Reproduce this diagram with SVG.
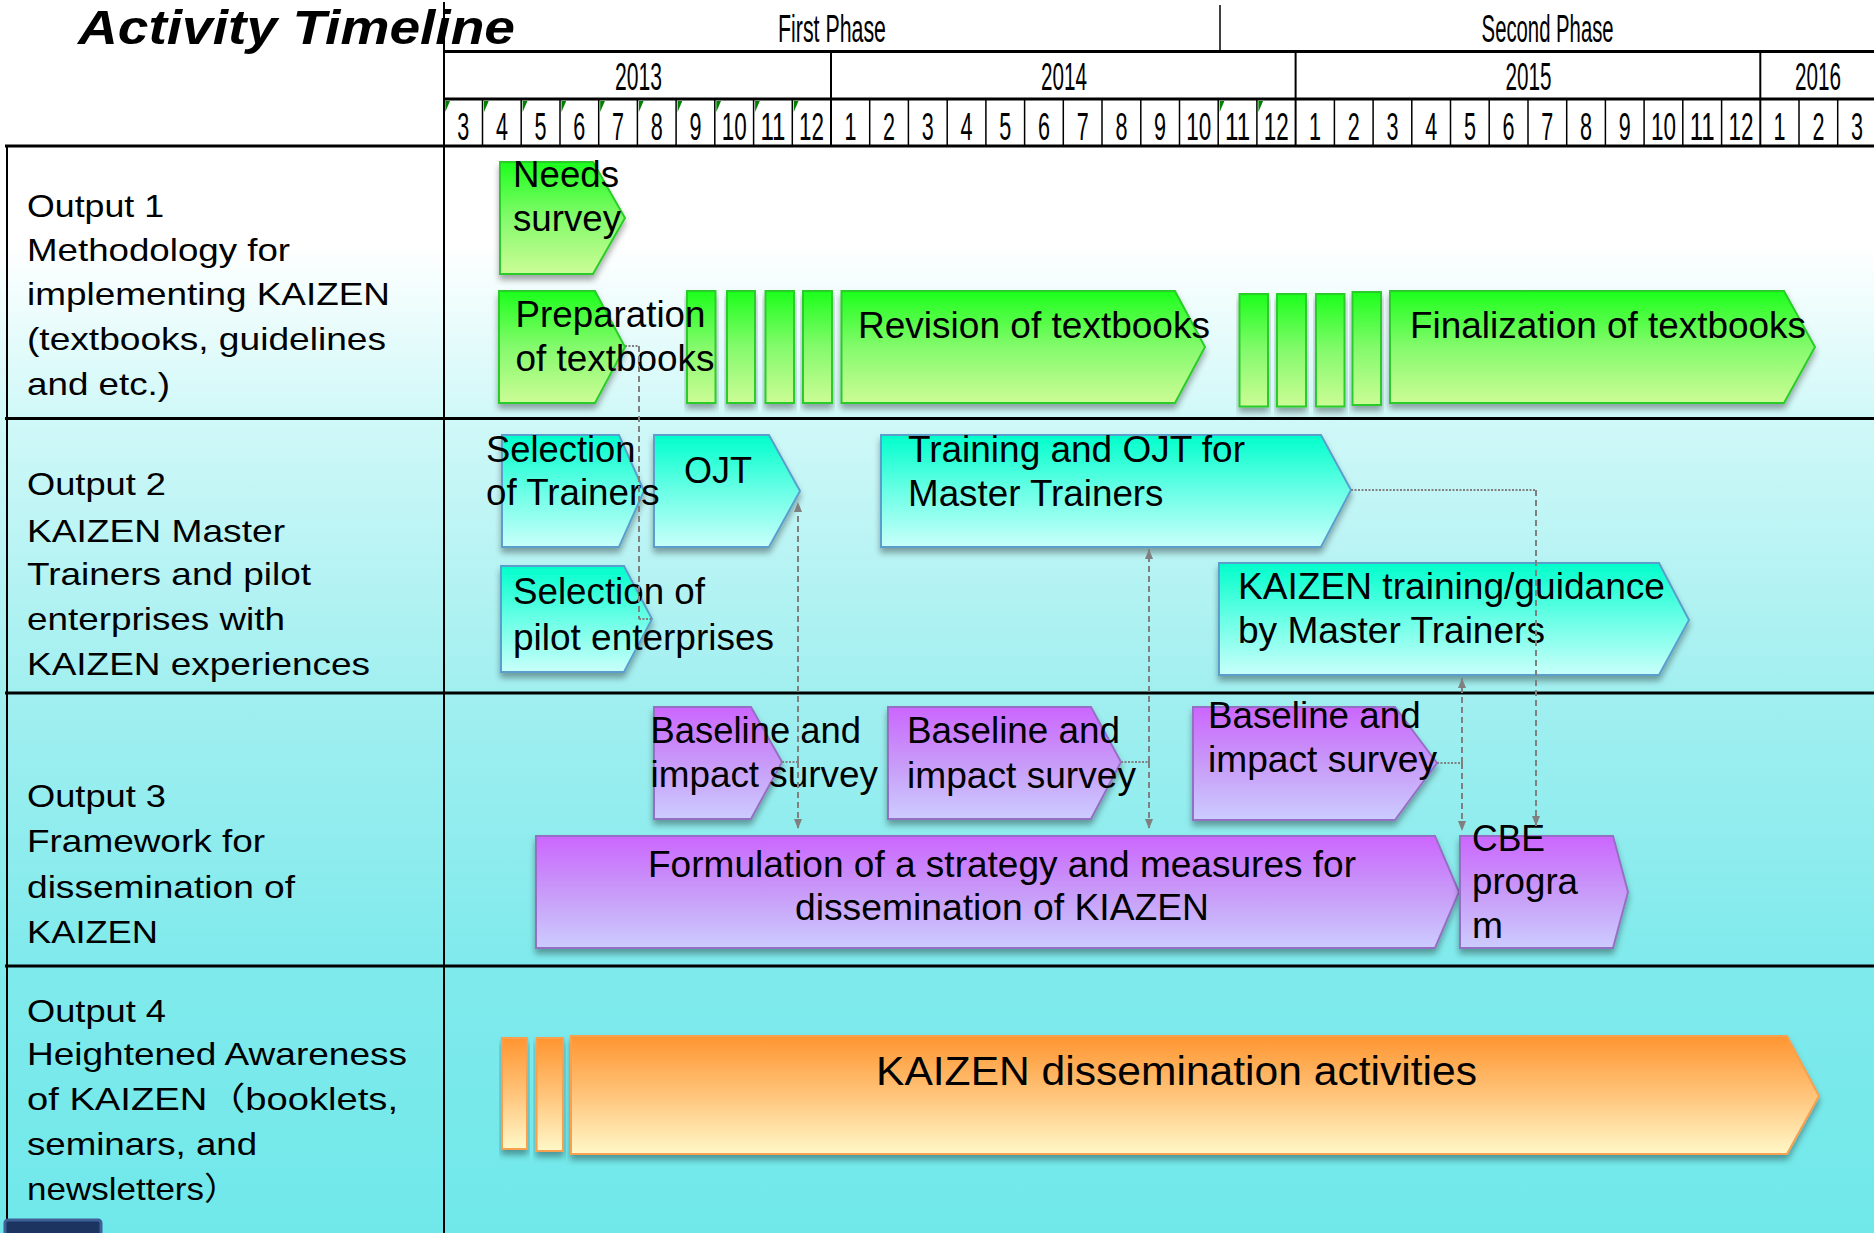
<svg xmlns="http://www.w3.org/2000/svg" width="1874" height="1233" viewBox="0 0 1874 1233">
<style>
.t{font-family:"Liberation Sans",Arial,"Noto Sans CJK JP",sans-serif;fill:#000}
.hd{font-size:38px}
.br{font-size:36px}
.lb{font-size:32px}
.grid{stroke:#000;fill:none}
.gr{fill:url(#gGreen);stroke:#2ccc2c;stroke-width:2;filter:url(#sh)}
.cy{fill:url(#gCyan);stroke:#5a9fcc;stroke-width:2;filter:url(#sh)}
.pu{fill:url(#gPurple);stroke:#9470c4;stroke-width:2;filter:url(#sh)}
.or{fill:url(#gOrange);stroke:#f7a050;stroke-width:2;filter:url(#sh)}
.cn{stroke:#808080;stroke-width:2;fill:none}
.dash{stroke-dasharray:6 4}
.dot{stroke-dasharray:2 1.5}
.tri{fill:#008000}
</style>
<defs>
<linearGradient id="bg" x1="0" y1="0" x2="0" y2="1">
<stop offset="0" stop-color="#ffffff"/>
<stop offset="0.09" stop-color="#ffffff"/>
<stop offset="0.25" stop-color="#d0f8f8"/>
<stop offset="0.5" stop-color="#a2eff0"/>
<stop offset="0.75" stop-color="#80eaec"/>
<stop offset="1" stop-color="#70e8ea"/>
</linearGradient>
<linearGradient id="gGreen" x1="0" y1="0" x2="0" y2="1">
<stop offset="0" stop-color="#1cff1c"/>
<stop offset="0.5" stop-color="#84fa6c"/>
<stop offset="1" stop-color="#ccfc96"/>
</linearGradient>
<linearGradient id="gCyan" x1="0" y1="0" x2="0" y2="1">
<stop offset="0" stop-color="#00ffcc"/>
<stop offset="0.5" stop-color="#6affe6"/>
<stop offset="1" stop-color="#c8fffa"/>
</linearGradient>
<linearGradient id="gPurple" x1="0" y1="0" x2="0" y2="1">
<stop offset="0" stop-color="#cc66ff"/>
<stop offset="0.5" stop-color="#c89af8"/>
<stop offset="1" stop-color="#ccccff"/>
</linearGradient>
<linearGradient id="gOrange" x1="0" y1="0" x2="0" y2="1">
<stop offset="0" stop-color="#ff9530"/>
<stop offset="0.5" stop-color="#ffc47a"/>
<stop offset="1" stop-color="#fff8c8"/>
</linearGradient>
<filter id="sh" x="-10%" y="-10%" width="120%" height="130%">
<feDropShadow dx="0" dy="5" stdDeviation="3" flood-color="#000" flood-opacity="0.35"/>
</filter>
<marker id="ah" viewBox="0 0 10 8" refX="10" refY="4" markerWidth="10" markerHeight="8" markerUnits="userSpaceOnUse" orient="auto">
<path d="M0,0 L10,4 L0,8 z" fill="#808080"/>
</marker>
</defs>

<rect x="0" y="0" width="1874" height="1233" fill="#ffffff"/>
<rect x="0" y="147" width="1874" height="1086" fill="url(#bg)"/>

<g id="header">
<text class="t" x="78" y="44" font-size="49" font-weight="bold" font-style="italic" textLength="437" lengthAdjust="spacingAndGlyphs">Activity Timeline</text>
<text class="t hd" x="778" y="41.5" textLength="108" lengthAdjust="spacingAndGlyphs">First Phase</text>
<text class="t hd" x="1481.6" y="41.5" textLength="132" lengthAdjust="spacingAndGlyphs">Second Phase</text>
<text class="t hd" x="615" y="90" textLength="47" lengthAdjust="spacingAndGlyphs">2013</text>
<text class="t hd" x="1041" y="90" textLength="46" lengthAdjust="spacingAndGlyphs">2014</text>
<text class="t hd" x="1505.5" y="90" textLength="46" lengthAdjust="spacingAndGlyphs">2015</text>
<text class="t hd" x="1795" y="90" textLength="46" lengthAdjust="spacingAndGlyphs">2016</text>
<g class="t hd" font-size="38">
<text x="457.2" y="140" textLength="12" lengthAdjust="spacingAndGlyphs">3</text>
<text x="495.9" y="140" textLength="12" lengthAdjust="spacingAndGlyphs">4</text>
<text x="534.6" y="140" textLength="12" lengthAdjust="spacingAndGlyphs">5</text>
<text x="573.3" y="140" textLength="12" lengthAdjust="spacingAndGlyphs">6</text>
<text x="612" y="140" textLength="12" lengthAdjust="spacingAndGlyphs">7</text>
<text x="650.8" y="140" textLength="12" lengthAdjust="spacingAndGlyphs">8</text>
<text x="689.5" y="140" textLength="12" lengthAdjust="spacingAndGlyphs">9</text>
<text x="721.7" y="140" textLength="25" lengthAdjust="spacingAndGlyphs">10</text>
<text x="760.4" y="140" textLength="25" lengthAdjust="spacingAndGlyphs">11</text>
<text x="799.1" y="140" textLength="25" lengthAdjust="spacingAndGlyphs">12</text>
<text x="844.4" y="140" textLength="12" lengthAdjust="spacingAndGlyphs">1</text>
<text x="883.1" y="140" textLength="12" lengthAdjust="spacingAndGlyphs">2</text>
<text x="921.8" y="140" textLength="12" lengthAdjust="spacingAndGlyphs">3</text>
<text x="960.5" y="140" textLength="12" lengthAdjust="spacingAndGlyphs">4</text>
<text x="999.2" y="140" textLength="12" lengthAdjust="spacingAndGlyphs">5</text>
<text x="1038" y="140" textLength="12" lengthAdjust="spacingAndGlyphs">6</text>
<text x="1076.7" y="140" textLength="12" lengthAdjust="spacingAndGlyphs">7</text>
<text x="1115.4" y="140" textLength="12" lengthAdjust="spacingAndGlyphs">8</text>
<text x="1154.1" y="140" textLength="12" lengthAdjust="spacingAndGlyphs">9</text>
<text x="1186.3" y="140" textLength="25" lengthAdjust="spacingAndGlyphs">10</text>
<text x="1225.1" y="140" textLength="25" lengthAdjust="spacingAndGlyphs">11</text>
<text x="1263.8" y="140" textLength="25" lengthAdjust="spacingAndGlyphs">12</text>
<text x="1309" y="140" textLength="12" lengthAdjust="spacingAndGlyphs">1</text>
<text x="1347.7" y="140" textLength="12" lengthAdjust="spacingAndGlyphs">2</text>
<text x="1386.4" y="140" textLength="12" lengthAdjust="spacingAndGlyphs">3</text>
<text x="1425.2" y="140" textLength="12" lengthAdjust="spacingAndGlyphs">4</text>
<text x="1463.9" y="140" textLength="12" lengthAdjust="spacingAndGlyphs">5</text>
<text x="1502.6" y="140" textLength="12" lengthAdjust="spacingAndGlyphs">6</text>
<text x="1541.3" y="140" textLength="12" lengthAdjust="spacingAndGlyphs">7</text>
<text x="1580" y="140" textLength="12" lengthAdjust="spacingAndGlyphs">8</text>
<text x="1618.8" y="140" textLength="12" lengthAdjust="spacingAndGlyphs">9</text>
<text x="1651" y="140" textLength="25" lengthAdjust="spacingAndGlyphs">10</text>
<text x="1689.7" y="140" textLength="25" lengthAdjust="spacingAndGlyphs">11</text>
<text x="1728.4" y="140" textLength="25" lengthAdjust="spacingAndGlyphs">12</text>
<text x="1773.6" y="140" textLength="12" lengthAdjust="spacingAndGlyphs">1</text>
<text x="1812.4" y="140" textLength="12" lengthAdjust="spacingAndGlyphs">2</text>
<text x="1851.1" y="140" textLength="12" lengthAdjust="spacingAndGlyphs">3</text>
</g>
<g class="tri">
<polygon points="445.3,101 450,101 445.3,112"/>
<polygon points="484,101 488.7,101 484,112"/>
<polygon points="522.7,101 527.4,101 522.7,112"/>
<polygon points="561.5,101 566.2,101 561.5,112"/>
<polygon points="600.2,101 604.9,101 600.2,112"/>
<polygon points="638.9,101 643.6,101 638.9,112"/>
<polygon points="677.6,101 682.3,101 677.6,112"/>
<polygon points="716.3,101 721,101 716.3,112"/>
<polygon points="755.1,101 759.8,101 755.1,112"/>
<polygon points="793.8,101 798.5,101 793.8,112"/>
<polygon points="1219.7,101 1224.4,101 1219.7,112"/>
<polygon points="1258.4,101 1263.1,101 1258.4,112"/>
</g>
</g>

<g id="grid" class="grid">
<line x1="444" y1="2" x2="444" y2="1233" stroke-width="2"/>
<line x1="7" y1="146" x2="7" y2="1233" stroke-width="2"/>
<line x1="1220" y1="5" x2="1220" y2="51" stroke-width="1.5"/>
<line x1="444" y1="51.5" x2="1874" y2="51.5" stroke-width="3"/>
<line x1="444" y1="99" x2="1874" y2="99" stroke-width="3"/>
<line x1="5" y1="146" x2="1874" y2="146" stroke-width="3"/>
<line x1="5" y1="418.5" x2="1874" y2="418.5" stroke-width="3"/>
<line x1="5" y1="693" x2="1874" y2="693" stroke-width="3"/>
<line x1="5" y1="966" x2="1874" y2="966" stroke-width="3"/>
<line x1="831" y1="51" x2="831" y2="146" stroke-width="2"/>
<line x1="1295.6" y1="51" x2="1295.6" y2="146" stroke-width="2"/>
<line x1="1760.3" y1="51" x2="1760.3" y2="146" stroke-width="2"/>
<path stroke-width="1.5" d="M482.5,99V146M521.2,99V146M560,99V146M598.7,99V146M637.4,99V146M676.1,99V146M714.8,99V146M753.6,99V146M792.3,99V146M869.7,99V146M908.4,99V146M947.2,99V146M985.9,99V146M1024.6,99V146M1063.3,99V146M1102,99V146M1140.8,99V146M1179.5,99V146M1218.2,99V146M1256.9,99V146M1334.4,99V146M1373.1,99V146M1411.8,99V146M1450.5,99V146M1489.2,99V146M1528,99V146M1566.7,99V146M1605.4,99V146M1644.1,99V146M1682.8,99V146M1721.6,99V146M1799,99V146M1837.7,99V146"/>
</g>

<g id="labels" class="t lb">
<text x="27" y="216.5" textLength="137" lengthAdjust="spacingAndGlyphs">Output 1</text>
<text x="27" y="260.5" textLength="263" lengthAdjust="spacingAndGlyphs">Methodology for</text>
<text x="27" y="305" textLength="363" lengthAdjust="spacingAndGlyphs">implementing KAIZEN</text>
<text x="27" y="350" textLength="359" lengthAdjust="spacingAndGlyphs">(textbooks, guidelines</text>
<text x="27" y="394.5" textLength="143" lengthAdjust="spacingAndGlyphs">and etc.)</text>
<text x="27" y="495.3" textLength="139" lengthAdjust="spacingAndGlyphs">Output 2</text>
<text x="27" y="542" textLength="258" lengthAdjust="spacingAndGlyphs">KAIZEN Master</text>
<text x="27" y="585.3" textLength="284" lengthAdjust="spacingAndGlyphs">Trainers and pilot</text>
<text x="27" y="630.3" textLength="258" lengthAdjust="spacingAndGlyphs">enterprises with</text>
<text x="27" y="675.3" textLength="343" lengthAdjust="spacingAndGlyphs">KAIZEN experiences</text>
<text x="27" y="806.7" textLength="139" lengthAdjust="spacingAndGlyphs">Output 3</text>
<text x="27" y="852" textLength="238" lengthAdjust="spacingAndGlyphs">Framework for</text>
<text x="27" y="897.7" textLength="268" lengthAdjust="spacingAndGlyphs">dissemination of</text>
<text x="27" y="942.7" textLength="131" lengthAdjust="spacingAndGlyphs">KAIZEN</text>
<text x="27" y="1021.7" textLength="139" lengthAdjust="spacingAndGlyphs">Output 4</text>
<text x="27" y="1065" textLength="380" lengthAdjust="spacingAndGlyphs">Heightened Awareness</text>
<text x="27" y="1110" textLength="371" lengthAdjust="spacingAndGlyphs">of KAIZEN（booklets,</text>
<text x="27" y="1155" textLength="230" lengthAdjust="spacingAndGlyphs">seminars, and</text>
<text x="27" y="1200" textLength="212" lengthAdjust="spacingAndGlyphs">newsletters）</text>
</g>

<rect x="5" y="1220" width="96" height="20" rx="3" fill="#1b3560" stroke="#3e6096" stroke-width="3"/>

<g id="n-needs"><path class="gr" d="M500,162H593L625,218L593,274H500Z"/>
<text class="t br" x="513" y="187" textLength="106" lengthAdjust="spacingAndGlyphs">Needs</text>
<text class="t br" x="513" y="231" textLength="108" lengthAdjust="spacingAndGlyphs">survey</text></g>
<g id="n-g1"><rect class="gr" x="687" y="291" width="28.5" height="112"/></g>
<g id="n-g2"><rect class="gr" x="727" y="291" width="28" height="112"/></g>
<g id="n-g3"><rect class="gr" x="765.5" y="291" width="28.5" height="112"/></g>
<g id="n-g4"><rect class="gr" x="803" y="291" width="29" height="112"/></g>
<g id="n-prep"><path class="gr" d="M499,291H595L625,347L595,403H499Z"/>
<text class="t br" x="515.5" y="327" textLength="190" lengthAdjust="spacingAndGlyphs">Preparation</text>
<text class="t br" x="515.5" y="371" textLength="199" lengthAdjust="spacingAndGlyphs">of textbooks</text></g>
<g id="n-revision"><path class="gr" d="M841.5,291H1175L1205,347L1175,403H841.5Z"/>
<text class="t br" x="858" y="338" textLength="352" lengthAdjust="spacingAndGlyphs">Revision of textbooks</text></g>
<g id="n-g5"><rect class="gr" x="1239.5" y="294" width="28.5" height="112.5"/></g>
<g id="n-g6"><rect class="gr" x="1277" y="294" width="29" height="112.5"/></g>
<g id="n-g7"><rect class="gr" x="1316" y="294" width="28.5" height="112.5"/></g>
<g id="n-g8"><rect class="gr" x="1352.5" y="292" width="28.5" height="113"/></g>
<g id="n-final"><path class="gr" d="M1390,291H1784L1815,347L1784,403H1390Z"/>
<text class="t br" x="1410" y="338" textLength="396" lengthAdjust="spacingAndGlyphs">Finalization of textbooks</text></g>

<g id="n-ojt"><path class="cy" d="M654,435H769L800,491L769,547H654Z"/>
<text class="t br" x="684" y="483" textLength="68" lengthAdjust="spacingAndGlyphs">OJT</text></g>
<g id="n-seltrain"><path class="cy" d="M502,435H619L644,491L619,547H502Z"/>
<text class="t br" x="486" y="461.7" textLength="149.5" lengthAdjust="spacingAndGlyphs">Selection</text>
<text class="t br" x="486" y="505" textLength="173.5" lengthAdjust="spacingAndGlyphs">of Trainers</text></g>
<g id="n-trainojt"><path class="cy" d="M881,435H1321L1351,490L1321,547H881Z"/>
<text class="t br" x="908" y="461.7" textLength="337" lengthAdjust="spacingAndGlyphs">Training and OJT for</text>
<text class="t br" x="908" y="506" textLength="255.5" lengthAdjust="spacingAndGlyphs">Master Trainers</text></g>
<g id="n-selpilot"><path class="cy" d="M501,566H624L652,619L624,672H501Z"/>
<text class="t br" x="513" y="604" textLength="192" lengthAdjust="spacingAndGlyphs">Selection of</text>
<text class="t br" x="513" y="650" textLength="261" lengthAdjust="spacingAndGlyphs">pilot enterprises</text></g>
<g id="n-kaizentrain"><path class="cy" d="M1219,563H1659L1689,620L1659,675H1219Z"/>
<text class="t br" x="1238" y="599" textLength="427" lengthAdjust="spacingAndGlyphs">KAIZEN training/guidance</text>
<text class="t br" x="1238" y="642.7" textLength="307" lengthAdjust="spacingAndGlyphs">by Master Trainers</text></g>

<g id="n-base1"><path class="pu" d="M654,707H751L782,762L751,819H654Z"/>
<text class="t br" x="650.5" y="743" textLength="210.5" lengthAdjust="spacingAndGlyphs">Baseline and</text>
<text class="t br" x="650.5" y="787" textLength="227.5" lengthAdjust="spacingAndGlyphs">impact survey</text></g>
<g id="n-base2"><path class="pu" d="M888,707H1091L1121,762L1091,819H888Z"/>
<text class="t br" x="907" y="743" textLength="213" lengthAdjust="spacingAndGlyphs">Baseline and</text>
<text class="t br" x="907" y="788" textLength="229" lengthAdjust="spacingAndGlyphs">impact survey</text></g>
<g id="n-base3"><path class="pu" d="M1193,707H1395L1437,763L1395,820H1193Z"/>
<text class="t br" x="1208" y="728" textLength="212.6" lengthAdjust="spacingAndGlyphs">Baseline and</text>
<text class="t br" x="1208" y="772" textLength="229" lengthAdjust="spacingAndGlyphs">impact survey</text></g>
<g id="n-formulation"><path class="pu" d="M536,836H1435L1459,892L1435,948H536Z"/>
<text class="t br" x="648" y="876.7" textLength="708" lengthAdjust="spacingAndGlyphs">Formulation of a strategy and measures for</text>
<text class="t br" x="795" y="920" textLength="414" lengthAdjust="spacingAndGlyphs">dissemination of KIAZEN</text></g>
<g id="n-cbe"><path class="pu" d="M1460,836H1613L1628,892L1613,948H1460Z"/>
<text class="t br" x="1472" y="850.7" textLength="73" lengthAdjust="spacingAndGlyphs">CBE</text>
<text class="t br" x="1472" y="894" textLength="106" lengthAdjust="spacingAndGlyphs">progra</text>
<text class="t br" x="1472" y="938" textLength="31" lengthAdjust="spacingAndGlyphs">m</text></g>

<g id="n-o1"><rect class="or" x="502" y="1038" width="25" height="111"/></g>
<g id="n-o2"><rect class="or" x="536.6" y="1038" width="26.4" height="113"/></g>
<g id="n-dissem"><path class="or" d="M571,1036H1787L1819,1096L1787,1154H571Z"/>
<text class="t" font-size="41" x="876" y="1085" textLength="601" lengthAdjust="spacingAndGlyphs">KAIZEN dissemination activities</text></g>

<g id="connectors">
<path class="cn dot" d="M625,346H639"/>
<path class="cn dash" d="M639,346V619"/>
<path class="cn dot" d="M639,619H651"/>
<path class="cn dot" d="M782,762H798"/>
<path class="cn dash" d="M798,762V502" marker-end="url(#ah)"/>
<path class="cn dash" d="M798,762V829" marker-end="url(#ah)"/>
<path class="cn dot" d="M1121,762H1149"/>
<path class="cn dash" d="M1149,762V549" marker-end="url(#ah)"/>
<path class="cn dash" d="M1149,762V829" marker-end="url(#ah)"/>
<path class="cn dot" d="M1437,763H1462"/>
<path class="cn dash" d="M1462,763V678" marker-end="url(#ah)"/>
<path class="cn dash" d="M1462,763V831" marker-end="url(#ah)"/>
<path class="cn dot" d="M1351,490H1536"/>
<path class="cn dash" d="M1536,490V826" marker-end="url(#ah)"/>
</g>
</svg>
